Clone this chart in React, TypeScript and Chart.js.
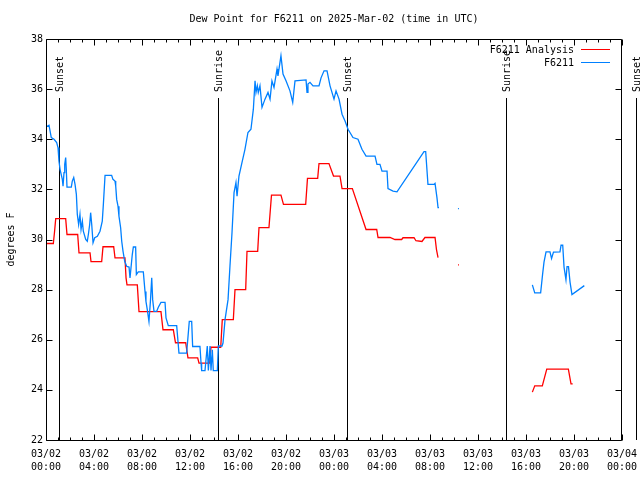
import React, { useEffect, useRef } from 'react';
import { Chart, registerables } from 'chart.js';

Chart.register(...registerables);

const FONT = '"DejaVu Sans Mono", monospace';

const chartTitle = 'Dew Point for F6211 on 2025-Mar-02 (time in UTC)';
const yAxisTitle = 'degrees F';
const seriesNames = ['F6211 Analysis', 'F6211'];
const dayLabels = ['03/02', '03/03', '03/04'];

// Sun events (hours since 03/02 00:00 UTC)
const sunEventHours = [1.11, 14.36, 25.11, 38.31, 49.17];
const sunEventNames = ['Sunset', 'Sunrise', 'Sunset', 'Sunrise', 'Sunset'];

// F6211 Analysis (red)
const analysisHours = [
  0.06, 0.61, 0.71, 0.81, 1.64, 1.75, 2.64, 2.75, 3.67, 3.75, 4.64, 4.75, 5.64, 5.75,
  6.58, 6.67, 6.75, 7.61, 7.75, 9.58, 9.75, 10.61, 10.79, 11.64, 11.83, 12.64, 12.75,
  13.64, 13.75, 14.56, 14.69, 15.61, 15.75, 16.64, 16.75, 17.64, 17.75, 18.58, 18.79,
  19.58, 19.79, 21.64, 21.79, 22.64, 22.75, 23.58, 23.96, 24.5, 24.67, 25.53, 26.67,
  27.56, 27.67, 28.67, 29.08, 29.64, 29.75, 30.67, 30.83, 31.33, 31.58, 32.42, 32.54,
  32.67, 33.5, 34.33, 34.41, 37.0, 40.53, 40.73, 41.36, 41.73, 43.53, 43.75, 43.89,
];
const analysisValues = [
  29.84, 29.84, 30.3, 30.83, 30.83, 30.2, 30.2, 29.47, 29.47, 29.12, 29.12, 29.71, 29.71, 29.27,
  29.27, 28.47, 28.19, 28.19, 27.12, 27.12, 26.4, 26.4, 25.88, 25.88, 25.28, 25.28, 25.07,
  25.07, 25.7, 25.7, 26.8, 26.8, 28.0, 28.0, 29.53, 29.53, 30.47, 30.47, 31.77,
  31.77, 31.4, 31.4, 32.44, 32.44, 33.03, 33.03, 32.53, 32.53, 32.03, 32.03, 30.4,
  30.4, 30.08, 30.08, 30.0, 30.0, 30.07, 30.07, 29.95, 29.92, 30.08, 30.08, 29.6,
  29.28, null, 28.99, 28.99, null, 23.91, 24.16, 24.16, 24.83, 24.83, 24.24, 24.24,
];

// F6211 station (blue)
const stationHours = [
  0.06, 0.25, 0.44, 0.67, 0.89, 1.0, 1.08, 1.17, 1.36, 1.42, 1.5, 1.56, 1.64, 1.69, 1.75,
  2.11, 2.19, 2.31, 2.42, 2.53, 2.61, 2.72, 2.83, 2.92, 3.03, 3.11, 3.31, 3.44, 3.53,
  3.64, 3.72, 3.81, 3.92, 4.06, 4.28, 4.5, 4.69, 4.78, 4.92, 5.47, 5.58, 5.75, 5.81,
  5.89, 6.0, 6.08, 6.22, 6.31, 6.42, 6.56, 6.72, 6.92, 7.0, 7.19, 7.28, 7.47, 7.53,
  7.69, 8.11, 8.25, 8.33, 8.44, 8.58, 8.71, 8.81, 8.89, 9.0, 9.22, 9.36, 9.58, 9.92,
  10.0, 10.19, 10.89, 11.08, 11.72, 11.94, 12.14, 12.22, 12.83, 12.92, 12.97, 13.25,
  13.44, 13.53, 13.67, 13.75, 13.86, 13.94, 14.28, 14.36, 14.67, 14.75, 14.92, 15.17,
  15.33, 15.5, 15.67, 15.83, 15.92, 16.08, 16.33, 16.58, 16.83, 17.08, 17.28, 17.42,
  17.5, 17.61, 17.69, 17.83, 18.0, 18.25, 18.5, 18.67, 18.83, 19.0, 19.25, 19.33,
  19.58, 19.75, 20.0, 20.33, 20.56, 20.75, 21.67, 21.75, 21.83, 22.0, 22.25, 22.75,
  22.92, 23.17, 23.42, 23.67, 24.0, 24.17, 24.42, 24.67, 24.92, 25.17, 25.58, 26.0,
  26.33, 26.67, 27.42, 27.58, 27.83, 28.0, 28.42, 28.5, 28.92, 29.25, 31.5, 31.64,
  31.83, 32.33, 32.42, 32.58, 32.67, 32.75, 33.5, 34.33, 34.41, 37.0, 40.53, 40.73,
  41.22, 41.38, 41.5, 41.67, 42.0, 42.13, 42.29, 42.83, 42.92, 43.06, 43.17, 43.33,
  43.42, 43.54, 43.67, 43.83, 44.86,
];
const stationValues = [
  34.51, 34.56, 34.07, 34.0, 33.87, 33.67, 33.13, 32.8, 32.4, 32.13, 32.67, 33.0, 33.27, 32.8, 32.09,
  32.09, 32.33, 32.47, 32.2, 31.8, 31.0, 30.6, 31.0, 30.4, 30.73, 30.33, 30.0, 29.93, 30.2,
  30.6, 31.07, 30.6, 29.87, 30.07, 30.13, 30.33, 30.73, 31.4, 32.56, 32.56, 32.4, 32.33, 32.13,
  31.6, 31.33, 30.93, 30.47, 29.93, 29.53, 29.13, 28.93, 28.9, 28.47, 29.4, 29.7, 29.7, 28.6,
  28.71, 28.71, 27.93, 27.53, 27.2, 26.73, 27.6, 28.47, 27.6, 27.13, 27.13, 27.3, 27.49, 27.49,
  26.87, 26.56, 26.56, 25.47, 25.47, 26.73, 26.73, 25.73, 25.73, 25.07, 24.77, 24.77,
  25.75, 24.77, 25.75, 24.77, 25.6, 24.77, 24.77, 25.75, 25.75, 25.87, 26.8, 27.6,
  28.93, 30.27, 31.87, 32.27, 31.73, 32.53, 33.07, 33.6, 34.27, 34.4, 35.2, 36.33,
  35.87, 36.13, 35.87, 36.13, 35.27, 35.6, 35.87, 35.6, 36.33, 36.07, 36.8, 36.53,
  37.33, 36.6, 36.33, 35.93, 35.47, 36.33, 36.37, 35.87, 36.2, 36.27, 36.13, 36.13,
  36.45, 36.73, 36.73, 36.13, 35.6, 35.93, 35.6, 35.0, 34.73, 34.4, 34.07, 34.0,
  33.6, 33.33, 33.33, 33.0, 33.0, 32.73, 32.73, 32.03, 31.93, 31.9, 33.51, 33.51,
  32.2, 32.2, 32.24, 31.67, 31.27, 31.27, null, 31.23, 31.23, null, 28.19, 27.87,
  27.87, 28.6, 29.1, 29.51, 29.51, 29.24, 29.5, 29.51, 29.77, 29.77, 28.9, 28.4,
  28.92, 28.92, 28.3, 27.8, 28.16,
];

const X_MIN = 0;
const X_MAX = 48;
const Y_MIN = 22;
const Y_MAX = 38;

const overlay = {
  id: 'gnuplotOverlay',
  beforeDatasetsDraw(chart: any) {
    const ctx = chart.ctx;
    const xs = chart.scales.x;
    const area = chart.chartArea;
    ctx.save();
    ctx.strokeStyle = '#000';
    ctx.lineWidth = 1;
    ctx.fillStyle = '#000';
    ctx.font = `10px ${FONT}`;
    sunEventHours.forEach((h, i) => {
      const px = Math.round(xs.getPixelForValue(h)) + 0.5;
      ctx.beginPath();
      ctx.moveTo(px, 98);
      ctx.lineTo(px, area.bottom);
      ctx.stroke();
      ctx.save();
      ctx.translate(px + 1, 92);
      ctx.rotate(-Math.PI / 2);
      ctx.textAlign = 'left';
      ctx.textBaseline = 'middle';
      ctx.fillText(sunEventNames[i], 0, 0);
      ctx.restore();
    });
    ctx.restore();
  },
  afterDraw(chart: any) {
    const ctx = chart.ctx;
    const xs = chart.scales.x;
    const ys = chart.scales.y;
    const a = chart.chartArea;
    const L = Math.round(a.left) + 0.5;
    const R = Math.round(a.right) - 0.5;
    const T = Math.round(a.top) + 0.5;
    const B = Math.round(a.bottom) + 0.5;
    ctx.save();
    ctx.strokeStyle = '#000';
    ctx.lineWidth = 1;
    ctx.beginPath();
    ctx.rect(L, T, R - L, B - T);
    ctx.stroke();
    ctx.beginPath();
    for (let h = X_MIN; h <= X_MAX; h += 1) {
      const px = Math.round(xs.getPixelForValue(h)) + 0.5;
      const len = h % 4 === 0 ? 6 : 3;
      ctx.moveTo(px, B);
      ctx.lineTo(px, B - len);
      ctx.moveTo(px, T);
      ctx.lineTo(px, T + len);
    }
    for (let v = Y_MIN; v <= Y_MAX; v += 2) {
      const py = Math.round(ys.getPixelForValue(v)) + 0.5;
      ctx.moveTo(L, py);
      ctx.lineTo(L + 6, py);
      ctx.moveTo(R, py);
      ctx.lineTo(R - 6, py);
    }
    ctx.stroke();

    ctx.fillStyle = '#000';
    ctx.font = `10px ${FONT}`;
    ctx.textAlign = 'center';
    ctx.textBaseline = 'middle';
    ctx.fillText(chartTitle, (a.left + a.right) / 2, 19);
    ctx.save();
    ctx.translate(11, (a.top + a.bottom) / 2);
    ctx.rotate(-Math.PI / 2);
    ctx.fillText(yAxisTitle, 0, 0);
    ctx.restore();
    const colors = ['#ff0000', '#0080ff'];
    seriesNames.forEach((name, i) => {
      const y = 50 + i * 13;
      ctx.textAlign = 'right';
      ctx.fillStyle = '#000';
      ctx.fillText(name, 574, y);
      ctx.strokeStyle = colors[i];
      ctx.beginPath();
      ctx.moveTo(581, y - 0.5);
      ctx.lineTo(610, y - 0.5);
      ctx.stroke();
    });
    ctx.restore();
  },
};

function pts(xs: number[], ys: (number | null)[]) {
  return xs.map((x, i) => ({ x, y: ys[i] }));
}

function fmtTick(v: number): string[] {
  const day = Math.floor(v / 24);
  const hour = Math.round(v - day * 24);
  const hh = hour < 10 ? `0${hour}` : `${hour}`;
  return [dayLabels[day], `${hh}:00`];
}

export default function App() {
  const ref = useRef<HTMLCanvasElement>(null);
  useEffect(() => {
    if (!ref.current) return;
    const chart = new Chart(ref.current, {
      type: 'line',
      data: {
        datasets: [
          {
            label: seriesNames[0],
            data: pts(analysisHours, analysisValues) as any,
            borderColor: '#ff0000',
            backgroundColor: '#ff0000',
            borderWidth: 1.3,
            pointRadius: 0,
            tension: 0,
            spanGaps: false,
            order: 1,
          },
          {
            label: seriesNames[1],
            data: pts(stationHours, stationValues) as any,
            borderColor: '#0080ff',
            backgroundColor: '#0080ff',
            borderWidth: 1.3,
            pointRadius: 0,
            tension: 0,
            spanGaps: false,
            order: 0,
          },
        ],
      },
      options: {
        responsive: false,
        animation: false,
        events: [],
        layout: { padding: { top: 39, right: 18, left: 0, bottom: 0 } },
        plugins: {
          legend: { display: false },
          title: { display: false },
          tooltip: { enabled: false },
        },
        scales: {
          x: {
            type: 'linear',
            min: X_MIN,
            max: X_MAX,
            grid: { display: false, drawTicks: false, tickLength: 0 },
            border: { display: false },
            ticks: {
              stepSize: 4,
              autoSkip: false,
              maxRotation: 0,
              minRotation: 0,
              padding: 8,
              color: '#000',
              font: { family: FONT, size: 10, lineHeight: 1.3 },
              callback: (v: any) => fmtTick(Number(v)),
            },
            afterFit: (s: any) => {
              s.height = 40;
              s.paddingLeft = 0;
              s.paddingRight = 0;
            },
          },
          y: {
            type: 'linear',
            min: Y_MIN,
            max: Y_MAX,
            grid: { display: false, drawTicks: false, tickLength: 0 },
            border: { display: false },
            ticks: {
              stepSize: 2,
              padding: 3,
              color: '#000',
              font: { family: FONT, size: 10 },
            },
            afterFit: (s: any) => {
              s.width = 46;
              s.paddingTop = 0;
              s.paddingBottom = 0;
            },
          },
        },
      },
      plugins: [overlay],
    });
    return () => chart.destroy();
  }, []);
  return (
    <div style={{ position: 'fixed', left: 0, top: 0, width: 640, height: 480, background: '#fff' }}>
      <canvas ref={ref} width={640} height={480} style={{ display: 'block' }} />
    </div>
  );
}
